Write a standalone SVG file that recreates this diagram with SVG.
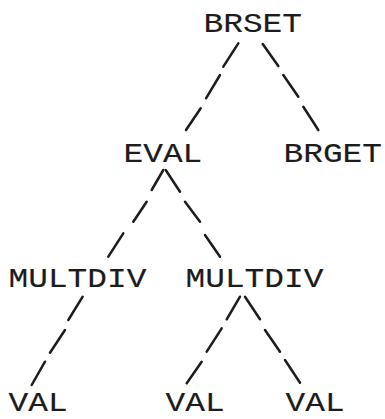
<svg xmlns="http://www.w3.org/2000/svg" width="385" height="419" viewBox="0 0 385 419">
  <style>
    .lbl { font-family: "Liberation Mono", "DejaVu Sans Mono", monospace; font-size: 27px; fill: #1c1c1c; stroke: #1c1c1c; stroke-width: 0.15px; }
    .seg { stroke: #1c1c1c; stroke-width: 2.5; stroke-linecap: round; fill: none; }
  </style>
  <rect width="385" height="419" fill="#ffffff"/>

  <!-- tree edges, typed as slash strokes -->
  <g id="connectors" class="seg">
    <!-- BRSET -> EVAL -->
    <line x1="238.3" y1="43.3" x2="223.3" y2="66.7"/>
    <line x1="220" y1="75" x2="206" y2="98.3"/>
    <line x1="200.7" y1="108.3" x2="186" y2="130"/>
    <!-- BRSET -> BRGET -->
    <line x1="262.7" y1="44" x2="278.3" y2="66"/>
    <line x1="283.3" y1="75" x2="298.3" y2="96.7"/>
    <line x1="303.3" y1="106.7" x2="318.3" y2="130"/>
    <!-- EVAL -> MULTDIV (left) -->
    <line x1="163.3" y1="170" x2="151.7" y2="190"/>
    <line x1="146.7" y1="201.7" x2="133.3" y2="221.7"/>
    <line x1="123.3" y1="233.3" x2="108.3" y2="256.7"/>
    <!-- EVAL -> MULTDIV (right) -->
    <line x1="165.7" y1="170" x2="180" y2="191.7"/>
    <line x1="185" y1="201.7" x2="200" y2="221.7"/>
    <line x1="205" y1="235" x2="220" y2="256.7"/>
    <!-- MULTDIV (left) -> VAL -->
    <line x1="82.7" y1="296.7" x2="68.3" y2="320"/>
    <line x1="65" y1="330" x2="50" y2="352.7"/>
    <line x1="45" y1="361.7" x2="31.7" y2="385"/>
    <!-- MULTDIV (right) -> VAL (middle) -->
    <line x1="240" y1="296.7" x2="226.7" y2="319.3"/>
    <line x1="221.7" y1="328.3" x2="206.7" y2="351.7"/>
    <line x1="201.7" y1="361.7" x2="186.7" y2="383.3"/>
    <!-- MULTDIV (right) -> VAL (right) -->
    <line x1="245" y1="296.7" x2="260" y2="319.3"/>
    <line x1="265" y1="330" x2="280" y2="351.7"/>
    <line x1="285" y1="360" x2="300" y2="382.7"/>
  </g>

  <g id="brset"><text class="lbl" x="203.5" y="32" textLength="98.5" lengthAdjust="spacingAndGlyphs">BRSET</text></g>
  <g id="eval"><text class="lbl" x="123.5" y="162" textLength="78.8" lengthAdjust="spacingAndGlyphs">EVAL</text></g>
  <g id="brget"><text class="lbl" x="283.5" y="162" textLength="98.5" lengthAdjust="spacingAndGlyphs">BRGET</text></g>
  <g id="multdiv-left"><text class="lbl" x="8.5" y="287" textLength="137.9" lengthAdjust="spacingAndGlyphs">MULTDIV</text></g>
  <g id="multdiv-right"><text class="lbl" x="185.5" y="287" textLength="137.9" lengthAdjust="spacingAndGlyphs">MULTDIV</text></g>
  <g id="val-1"><text class="lbl" x="8.5" y="411" textLength="59.1" lengthAdjust="spacingAndGlyphs">VAL</text></g>
  <g id="val-2"><text class="lbl" x="165.5" y="411" textLength="59.1" lengthAdjust="spacingAndGlyphs">VAL</text></g>
  <g id="val-3"><text class="lbl" x="285.5" y="411" textLength="59.1" lengthAdjust="spacingAndGlyphs">VAL</text></g>
</svg>
